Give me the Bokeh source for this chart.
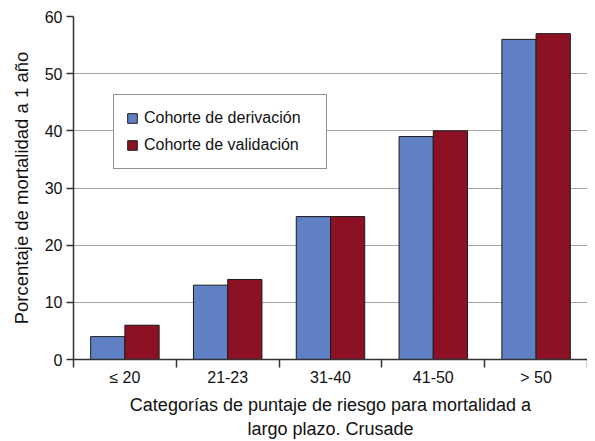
from bokeh.plotting import figure
from bokeh.models import Range1d, FixedTicker, Legend, LegendItem, ColumnDataSource
from bokeh.embed import file_html
from bokeh.resources import INLINE

categories = ["≤ 20", "21-23", "31-40", "41-50", "> 50"]
derivacion = [4, 13, 25, 39, 56]
validacion = [6, 14, 25, 40, 57]
series_names = ["Cohorte de derivación", "Cohorte de validación"]
y_ticks = [0, 10, 20, 30, 40, 50, 60]

FONT = "Liberation Sans"
BLUE = "#6080C6"
RED = "#8C1124"

n = len(categories)
centers = [i + 0.5 for i in range(n)]
bounds = list(range(n + 1))
bw = 0.333

src = ColumnDataSource(dict(
    xd=[c - bw / 2 for c in centers],
    xv=[c + bw / 2 for c in centers],
    der=derivacion,
    val=validacion,
))

p = figure(width=587, height=441, output_backend="svg", toolbar_location=None,
           x_range=Range1d(0, n), y_range=Range1d(0, max(y_ticks)),
           min_border_left=73, min_border_right=0, min_border_top=16,
           min_border_bottom=82)
p.outline_line_color = None
p.background_fill_color = "white"

r1 = p.vbar(x="xd", top="der", width=bw, source=src, fill_color=BLUE,
            line_color="#1a1a1a", line_width=1)
r2 = p.vbar(x="xv", top="val", width=bw, source=src, fill_color=RED,
            line_color="#1a1a1a", line_width=1)

# grid
p.xgrid.grid_line_color = None
p.ygrid.grid_line_color = "#a4a4a4"
p.ygrid.grid_line_width = 1.2
p.ygrid.level = "underlay"

# x axis
xa = p.xaxis[0]
xa.ticker = FixedTicker(ticks=centers, minor_ticks=bounds)
xa.major_label_overrides = {c: lab for c, lab in zip(centers, categories)}
xa.major_tick_line_color = None
xa.major_tick_out = 0
xa.major_tick_in = 0
xa.minor_tick_out = 8
xa.minor_tick_in = 0
xa.minor_tick_line_color = "#333333"
xa.minor_tick_line_width = 1.5
xa.axis_line_color = "#333333"
xa.axis_line_width = 1.5
xa.major_label_standoff = 1
xa.major_label_text_font = FONT
xa.major_label_text_font_size = "16px"
xa.major_label_text_color = "#111111"
xa.axis_label = "Categorías de puntaje de riesgo para mortalidad a\nlargo plazo. Crusade"
xa.axis_label_text_font = FONT
xa.axis_label_text_font_size = "18px"
xa.axis_label_text_font_style = "normal"
xa.axis_label_text_color = "#111111"
xa.axis_label_standoff = 6

# y axis
ya = p.yaxis[0]
ya.ticker = FixedTicker(ticks=y_ticks)
ya.minor_tick_line_color = None
ya.major_tick_out = 7
ya.major_tick_in = 0
ya.major_tick_line_color = "#333333"
ya.major_tick_line_width = 1.5
ya.axis_line_color = "#333333"
ya.axis_line_width = 1.5
ya.major_label_standoff = 4
ya.major_label_text_font = FONT
ya.major_label_text_font_size = "16px"
ya.major_label_text_color = "#111111"
ya.axis_label = "Porcentaje de mortalidad a 1 año"
ya.axis_label_text_font = FONT
ya.axis_label_text_font_size = "18.5px"
ya.axis_label_text_font_style = "normal"
ya.axis_label_text_color = "#111111"
ya.axis_label_standoff = 10

legend = Legend(items=[LegendItem(label=series_names[0], renderers=[r1]),
                       LegendItem(label=series_names[1], renderers=[r2])],
                location=(40, 190))
legend.border_line_color = "#222222"
legend.border_line_width = 1
legend.background_fill_color = "white"
legend.background_fill_alpha = 1
legend.label_text_font = FONT
legend.label_text_font_size = "16px"
legend.label_text_color = "#111111"
legend.glyph_width = 12
legend.glyph_height = 12
legend.label_height = 22
legend.label_width = 170
legend.spacing = 5
legend.padding = 12
legend.label_standoff = 6
legend.margin = 0
p.add_layout(legend)

open("out.html", "w").write(file_html(p, INLINE))
